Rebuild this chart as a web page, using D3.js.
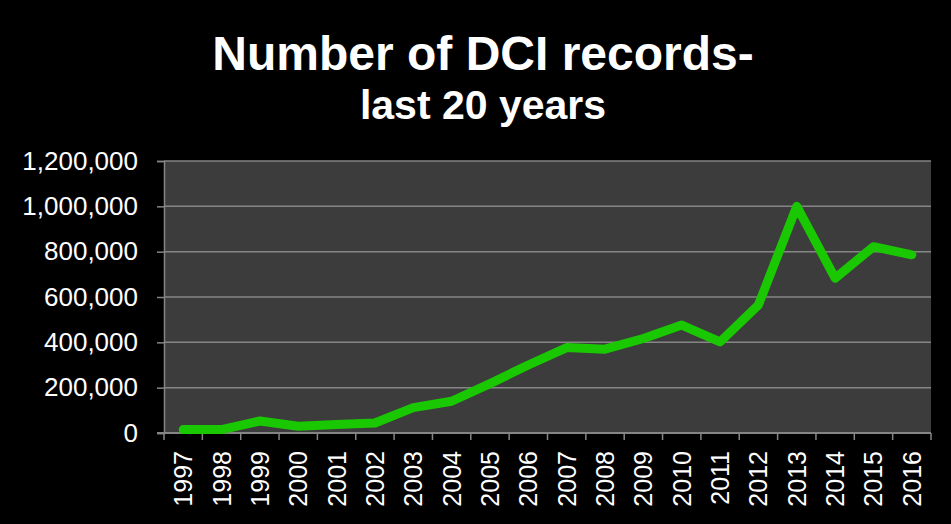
<!DOCTYPE html>
<html>
<head>
<meta charset="utf-8">
<script src="https://cdn.jsdelivr.net/npm/d3@7"></script>
<style>
  body { margin: 0; background: #000; }
  svg { display: block; font-family: Arial, "Liberation Sans", sans-serif; }
</style>
</head>
<body>
<svg width="951" height="524"></svg>
<script>
var years = ["1997","1998","1999","2000","2001","2002","2003","2004","2005","2006",
             "2007","2008","2009","2010","2011","2012","2013","2014","2015","2016"];
var records = [15000, 15000, 53000, 30000, 37000, 44000, 112000, 140000, 218000, 300000,
               377000, 370000, 417000, 476000, 402000, 565000, 1000000, 683000, 822000, 786000];
var yTicks = [0, 200000, 400000, 600000, 800000, 1000000, 1200000];
var titleLines = ["Number of DCI records-", "last 20 years"];

var svg = d3.select("svg");
var margin = {top: 161, right: 20, bottom: 91, left: 164};
var width = 951 - margin.left - margin.right;
var height = 524 - margin.top - margin.bottom;

svg.append("rect").attr("width", 951).attr("height", 524).attr("fill", "#000");

// title
svg.append("text")
    .attr("x", 483).attr("y", 70)
    .attr("text-anchor", "middle")
    .attr("fill", "#fff")
    .attr("font-weight", "bold")
    .attr("font-size", 48)
    .text(titleLines[0]);
svg.append("text")
    .attr("x", 483).attr("y", 119)
    .attr("text-anchor", "middle")
    .attr("fill", "#fff")
    .attr("font-weight", "bold")
    .attr("font-size", 41)
    .text(titleLines[1]);

var g = svg.append("g").attr("transform", "translate(" + margin.left + "," + margin.top + ")");

var x = d3.scaleBand().domain(years).range([0, width]);
var y = d3.scaleLinear().domain([0, 1200000]).range([height, 0]);

g.append("rect")
    .attr("width", width)
    .attr("height", height)
    .attr("fill", "#3c3c3c");

// gridlines
g.selectAll(".grid")
    .data(yTicks.slice(1))
    .enter().append("line")
    .attr("x1", 0).attr("x2", width)
    .attr("y1", function(d) { return y(d); })
    .attr("y2", function(d) { return y(d); })
    .attr("stroke", "#858585")
    .attr("stroke-width", 1.5);

// y axis
var yAxis = g.append("g")
    .call(d3.axisLeft(y).tickValues(yTicks).tickFormat(d3.format(",")).tickSize(7).tickPadding(19));
yAxis.selectAll("path, line").attr("stroke", "#858585").attr("stroke-width", 1.5);
yAxis.selectAll("text").attr("fill", "#fff").attr("font-size", 26).attr("font-family", "Arial, 'Liberation Sans', sans-serif");

// x axis, ticks on category boundaries
var xAxis = g.append("g").attr("transform", "translate(0," + height + ")");
xAxis.append("line")
    .attr("x1", -7).attr("x2", width)
    .attr("stroke", "#858585").attr("stroke-width", 2);
xAxis.selectAll(".tick")
    .data(years.concat(["end"]))
    .enter().append("line")
    .attr("x1", function(d, i) { return i < years.length ? x(d) : width; })
    .attr("x2", function(d, i) { return i < years.length ? x(d) : width; })
    .attr("y1", 0).attr("y2", 7)
    .attr("stroke", "#858585").attr("stroke-width", 1.5);
xAxis.selectAll(".lbl")
    .data(years)
    .enter().append("text")
    .attr("transform", function(d) { return "translate(" + (x(d) + x.bandwidth() / 2 + 9) + ",18) rotate(-90)"; })
    .attr("text-anchor", "end")
    .attr("fill", "#fff")
    .attr("font-size", 25)
    .text(function(d) { return d; });

// line
var line = d3.line()
    .x(function(d, i) { return x(years[i]) + x.bandwidth() / 2; })
    .y(function(d) { return y(d); });

g.append("path")
    .datum(records)
    .attr("fill", "none")
    .attr("stroke", "#19c800")
    .attr("stroke-width", 9)
    .attr("stroke-linejoin", "round")
    .attr("stroke-linecap", "round")
    .attr("d", line);
</script>
</body>
</html>
